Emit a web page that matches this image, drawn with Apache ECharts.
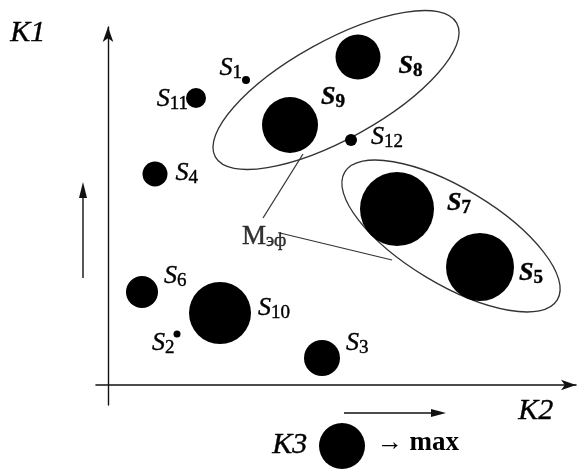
<!DOCTYPE html>
<html>
<head>
<meta charset="utf-8">
<script src="https://cdn.jsdelivr.net/npm/echarts@6/dist/echarts.min.js"></script>
<style>
html, body { margin: 0; padding: 0; background: #fff; }
#main { width: 585px; height: 472px; }
</style>
</head>
<body>
<div id="main"></div>
<script>
// объекты S1..S12: K2 - по горизонтали, K1 - по вертикали, K3 - размер кружка
var names = ['S1', 'S2', 'S3', 'S4', 'S5', 'S6', 'S7', 'S8', 'S9', 'S10', 'S11', 'S12'];
var k2 = [13.8, 6.9, 21.4, 4.7, 37.2, 3.4, 28.9, 25.0, 18.2, 11.2, 8.8, 24.3];
var k1 = [30.5, 5.1, 2.7, 21.1, 11.8, 9.3, 17.6, 32.8, 26.0, 7.2, 28.7, 24.5];
var k3 = [8, 7, 36, 25, 68, 32, 74, 45, 56, 62, 20, 12];
var boldNames = ['S5', 'S7', 'S8', 'S9'];

// группы (эллипсы): центр, полуоси, угол
var groupCenter = [[22.8, 29.5], [34.3, 14.9]];
var groupAxes = [[13.8, 4.9], [12.4, 4.8]];
var groupAngle = [29, -31];

// подпись Мэф и выноски
var mefPoint = [13.4, 14.8];
var mefLines = [
    [[15.5, 16.7], [19.5, 23.1]],
    [[17.2, 15.2], [28.4, 12.5]]
];

var serif = 'Liberation Serif';

// где ставить подпись: позиция, отступ, сдвиг по y
var labelPlace = {
    S1: ['left', 0, -12],
    S2: ['left', -1, 9],
    S3: ['right', 6, -15],
    S4: ['right', 8, -1],
    S5: ['right', 5, 6],
    S6: ['right', 6, -16],
    S7: ['right', 13, -6],
    S8: ['right', 18, 9],
    S9: ['right', 3, -28],
    S10: ['right', 7, -5],
    S11: ['left', -2, 1],
    S12: ['right', 14, -3]
};

var ink = { textBorderColor: '#000', textBorderWidth: 0.4 };
function txt(extra) {
    return Object.assign({ fontFamily: serif, color: '#000' }, ink, extra);
}

var richStyle = {
    s: txt({ fontStyle: 'italic', fontSize: 26 }),
    n: txt({ fontSize: 19, padding: [10, 0, 0, 0] }),
    sb: txt({ fontStyle: 'italic', fontWeight: 'bold', fontSize: 26 }),
    nb: txt({ fontWeight: 'bold', fontSize: 19, padding: [10, 0, 0, 0] })
};

var points = names.map(function (n, i) {
    var p = labelPlace[n];
    var b = boldNames.indexOf(n) >= 0 ? 'b' : '';
    return {
        name: n,
        value: [k2[i], k1[i], k3[i]],
        label: {
            show: true,
            position: p[0],
            distance: p[1],
            offset: [0, p[2]],
            color: '#000',
            formatter: '{s' + b + '|S}{n' + b + '|' + n.slice(1) + '}',
            rich: richStyle
        }
    };
});

var groups = groupCenter.map(function (c, i) {
    return [c[0], c[1], groupAxes[i][0], groupAxes[i][1], groupAngle[i]];
});

var myChart = echarts.init(document.getElementById('main'));

option = {
    animation: false,
    backgroundColor: '#fff',
    grid: {
        left: 96,
        right: 9,
        top: 27,
        bottom: 67
    },
    xAxis: {
        type: 'value',
        min: -1.2,
        max: 46.8,
        splitLine: { show: false },
        axisTick: { show: false },
        axisLabel: { show: false },
        axisLine: {
            onZero: true,
            symbol: ['none', 'arrow'],
            symbolSize: [8, 15],
            lineStyle: { color: '#111', width: 1.6 }
        }
    },
    yAxis: {
        type: 'value',
        min: -2,
        max: 35.8,
        splitLine: { show: false },
        axisTick: { show: false },
        axisLabel: { show: false },
        axisLine: {
            onZero: true,
            symbol: ['none', 'arrow'],
            symbolSize: [8, 15],
            lineStyle: { color: '#111', width: 1.4 }
        }
    },
    series: [
        {
            type: 'custom',
            renderItem: function (params, api) {
                var c = api.coord([api.value(0), api.value(1)]);
                var s = api.size([api.value(2), api.value(3)]);
                return {
                    type: 'ellipse',
                    x: c[0],
                    y: c[1],
                    rotation: api.value(4) * Math.PI / 180,
                    shape: { cx: 0, cy: 0, rx: s[0], ry: s[1] },
                    style: { fill: 'none', stroke: '#333', lineWidth: 1.3 }
                };
            },
            data: groups,
            z: 1
        },
        {
            type: 'lines',
            coordinateSystem: 'cartesian2d',
            lineStyle: { color: '#333', width: 1.2, opacity: 1 },
            data: mefLines.map(function (l) { return { coords: l }; }),
            z: 1
        },
        {
            type: 'scatter',
            symbol: 'circle',
            symbolSize: function (val) { return val[2]; },
            itemStyle: { color: '#000', opacity: 1 },
            emphasis: { disabled: true },
            data: points,
            z: 3
        },
        {
            type: 'scatter',
            symbolSize: 0,
            silent: true,
            data: [mefPoint],
            label: {
                show: true,
                position: 'right',
                distance: 0,
                color: '#000',
                formatter: '{m|M}{e|эф}',
                rich: {
                    m: txt({ fontSize: 27 }),
                    e: txt({ fontSize: 19, padding: [9, 0, 0, 0] })
                }
            }
        }
    ],
    graphic: [
        // K1, K2
        { type: 'text', left: 10, top: 18, style: { text: 'K1', fontFamily: serif, fontStyle: 'italic', fontSize: 30, fill: '#000', stroke: '#000', lineWidth: 0.4 } },
        { type: 'text', left: 518, top: 396, style: { text: 'K2', fontFamily: serif, fontStyle: 'italic', fontSize: 30, fill: '#000', stroke: '#000', lineWidth: 0.4 } },
        // стрелка слева
        { type: 'line', shape: { x1: 83, y1: 278, x2: 83, y2: 195 }, style: { stroke: '#111', lineWidth: 1.4 } },
        { type: 'polygon', shape: { points: [[83, 182], [79, 198], [87, 198]] }, style: { fill: '#111' } },
        // стрелка снизу
        { type: 'line', shape: { x1: 344, y1: 413, x2: 432, y2: 413 }, style: { stroke: '#111', lineWidth: 1.4 } },
        { type: 'polygon', shape: { points: [[446, 413], [431, 409], [431, 417]] }, style: { fill: '#111' } },
        // легенда K3
        { type: 'text', left: 272, top: 430, style: { text: 'K3', fontFamily: serif, fontStyle: 'italic', fontSize: 30, fill: '#000', stroke: '#000', lineWidth: 0.4 } },
        { type: 'circle', shape: { cx: 342, cy: 446, r: 23 }, style: { fill: '#000' } },
        {
            type: 'text', left: 377, top: 430,
            style: {
                text: '{a|→ }{b|max}',
                rich: {
                    a: { fontFamily: serif, fontSize: 26, fill: '#000' },
                    b: { fontFamily: serif, fontSize: 27, fontWeight: 'bold', fill: '#000' }
                }
            }
        }
    ]
};

myChart.setOption(option);
window.onresize = myChart.resize;
</script>
</body>
</html>
